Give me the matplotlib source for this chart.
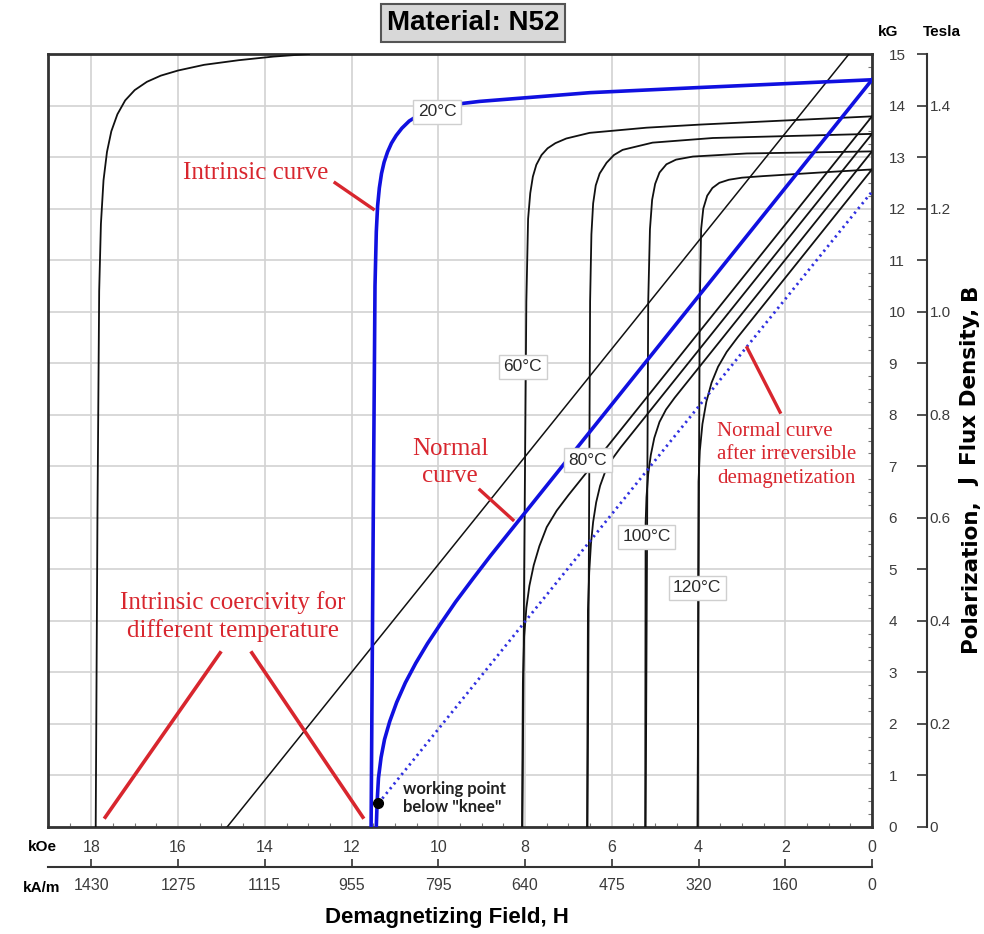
import matplotlib
matplotlib.use('Agg')
import matplotlib.pyplot as plt
from matplotlib.ticker import MultipleLocator

# H = demagnetizing field in kOe (axis runs 19 -> 0), B / J in kG
# intrinsic curves (J vs H)
h_int_a = [17.90, 17.86, 17.82, 17.78, 17.72, 17.64, 17.54, 17.40, 17.22, 17.00, 16.72, 16.40, 16.00, 15.40, 14.60, 13.80, 12.98]
b_int_a = [0.00, 6.00, 10.40, 11.70, 12.55, 13.10, 13.50, 13.83, 14.10, 14.30, 14.46, 14.58, 14.68, 14.79, 14.88, 14.95, 15.00]

h_int_20 = [11.55, 11.50, 11.46, 11.43, 11.40, 11.36, 11.31, 11.25, 11.17, 11.08, 10.97, 10.84, 10.67, 10.40, 10.05, 9.45, 9.05, 6.50, 3.97, 0.0]
b_int_20 = [0.00, 6.00, 10.50, 11.55, 12.05, 12.40, 12.68, 12.90, 13.10, 13.27, 13.42, 13.56, 13.70, 13.84, 13.95, 14.04, 14.08, 14.25, 14.35, 14.50]

h_int_60 = [8.06, 8.02, 7.97, 7.93, 7.88, 7.82, 7.74, 7.62, 7.48, 7.30, 7.05, 6.51, 5.20, 3.97, 2.00, 0.0]
b_int_60 = [0.00, 5.00, 10.20, 11.80, 12.30, 12.62, 12.85, 13.04, 13.17, 13.27, 13.36, 13.47, 13.57, 13.63, 13.71, 13.79]

h_int_80 = [6.56, 6.53, 6.50, 6.47, 6.43, 6.37, 6.28, 6.12, 5.95, 5.75, 5.06, 3.67, 0.0]
b_int_80 = [0.00, 5.00, 10.20, 11.50, 12.10, 12.45, 12.68, 12.89, 13.04, 13.14, 13.28, 13.37, 13.45]

h_int_100 = [5.22, 5.19, 5.16, 5.12, 5.07, 5.00, 4.90, 4.74, 4.52, 4.13, 2.89, 0.0]
b_int_100 = [0.00, 5.00, 10.20, 11.60, 12.17, 12.48, 12.70, 12.86, 12.95, 13.01, 13.07, 13.11]

h_int_120 = [4.02, 4.00, 3.97, 3.94, 3.89, 3.80, 3.68, 3.52, 3.30, 3.00, 2.52, 1.20, 0.0]
b_int_120 = [0.00, 5.00, 10.20, 11.60, 12.00, 12.25, 12.40, 12.50, 12.56, 12.60, 12.63, 12.70, 12.76]

# normal curves (B vs H)
h_norm_a = [14.87, 0.53]
b_norm_a = [0.0, 15.0]

h_norm_20 = [0.0, 8.80, 9.20, 9.60, 9.95, 10.25, 10.52, 10.76, 10.96, 11.12, 11.24, 11.32, 11.38, 11.41, 11.43]
b_norm_20 = [14.50, 5.26, 4.82, 4.37, 3.94, 3.56, 3.18, 2.80, 2.42, 2.05, 1.70, 1.35, 0.95, 0.50, 0.0]

h_norm_60 = [0.0, 7.00, 7.27, 7.50, 7.67, 7.80, 7.90, 7.97, 8.02, 8.05, 8.07]
b_norm_60 = [13.79, 6.44, 6.14, 5.82, 5.45, 5.08, 4.68, 4.25, 3.70, 2.80, 0.0]

h_norm_80 = [0.0, 5.80, 6.00, 6.15, 6.27, 6.36, 6.43, 6.48, 6.52, 6.55, 6.57]
b_norm_80 = [13.45, 7.36, 7.13, 6.90, 6.62, 6.30, 5.92, 5.50, 4.95, 4.20, 0.0]

h_norm_100 = [0.0, 4.55, 4.75, 4.90, 5.02, 5.10, 5.16, 5.20, 5.22, 5.23]
b_norm_100 = [13.11, 8.33, 8.10, 7.86, 7.55, 7.22, 6.85, 6.40, 5.90, 0.0]

h_norm_120 = [0.0, 3.10, 3.35, 3.55, 3.70, 3.82, 3.91, 3.97, 4.00, 4.02]
b_norm_120 = [12.76, 9.50, 9.22, 8.93, 8.62, 8.25, 7.82, 7.30, 6.70, 0.0]

# recoil line after irreversible demagnetization
h_recoil = [11.38, 0.0]
b_recoil = [0.46, 12.33]
wp_h, wp_b = 11.38, 0.46

temp_labels = ['20°C', '60°C', '80°C', '100°C', '120°C']
temp_label_h = [10.03, 8.05, 6.55, 5.19, 4.03]
temp_label_b = [13.88, 8.93, 7.12, 5.63, 4.64]

koe_ticks = [18, 16, 14, 12, 10, 8, 6, 4, 2, 0]
kam_labels = ['1430', '1275', '1115', '955', '795', '640', '475', '320', '160', '0']
kg_ticks = list(range(0, 16))
tesla_ticks = [0.0, 0.1, 0.2, 0.3, 0.4, 0.5, 0.6, 0.7, 0.8, 0.9, 1.0, 1.1, 1.2, 1.3, 1.4, 1.5]
tesla_labels = ['0', '', '0.2', '', '0.4', '', '0.6', '', '0.8', '', '1.0', '', '1.2', '', '1.4', '']

RED = '#d8262e'
BLUE = '#1010e0'
GRAY = '#3c3c3c'
SANS = 'Liberation Sans'
SERIF = 'Liberation Serif'

fig = plt.figure(figsize=(9.84, 9.34), dpi=100)
ax = fig.add_axes([48 / 984, 107 / 934, 824 / 984, 773 / 934])
ax.set_xlim(19.0, 0.0)
ax.set_ylim(0, 15)

# grid
ax.set_xticks(koe_ticks, [str(t) for t in koe_ticks])
ax.set_yticks(kg_ticks, [str(t) for t in kg_ticks])
ax.grid(True, which='major', color='#d2d2d2', lw=1.2, zorder=0)
ax.set_axisbelow(True)
ax.xaxis.set_minor_locator(MultipleLocator(0.5))
ax.yaxis.set_minor_locator(MultipleLocator(0.25))
ax.yaxis.tick_right()
ax.tick_params(axis='x', which='major', length=0, pad=9, labelsize=11.5, labelcolor=GRAY)
ax.tick_params(axis='y', which='major', length=0, pad=12, labelsize=11, labelcolor=GRAY)
ax.tick_params(which='minor', direction='in', length=3, color='#777777', width=0.8)
ax.tick_params(axis='y', which='minor', left=False, right=True)
ax.tick_params(axis='x', which='minor', top=False)
for lab in ax.get_xticklabels() + ax.get_yticklabels():
    lab.set_family(SANS)
for s in ax.spines.values():
    s.set_color('#333333')
    s.set_linewidth(2)

# curves
lw_k = 1.3
ax.plot(h_int_a, b_int_a, color='#111111', lw=lw_k, zorder=3)
ax.plot(h_norm_a, b_norm_a, color='#111111', lw=1.1, zorder=3)
for hh, bb in [(h_int_60, b_int_60), (h_int_80, b_int_80), (h_int_100, b_int_100), (h_int_120, b_int_120),
               (h_norm_60, b_norm_60), (h_norm_80, b_norm_80), (h_norm_100, b_norm_100), (h_norm_120, b_norm_120)]:
    ax.plot(hh, bb, color='#111111', lw=lw_k, zorder=3)
ax.plot(h_int_20, b_int_20, color=BLUE, lw=2.6, zorder=4)
ax.plot(h_norm_20, b_norm_20, color=BLUE, lw=2.6, zorder=4)
ax.plot(h_recoil, b_recoil, color='#3030e0', lw=2.0, ls=(0, (0.8, 1.4)), zorder=4)
ax.plot([wp_h], [wp_b], 'o', color='black', ms=7, zorder=6)

for t, hx, by in zip(temp_labels, temp_label_h, temp_label_b):
    ax.text(hx, by, t, ha='center', va='center', fontsize=12.5, family=SANS, color='#2a2a2a', zorder=7,
            bbox=dict(boxstyle='square,pad=0.25', fc='white', ec='#cfcfcf', lw=1))

ax.text(10.81, 0.57, 'working point\nbelow "knee"', ha='left', va='center', fontsize=12,
        family='Lato', weight='bold', color='#222222', linespacing=1.15, zorder=7)

# red annotations
ax.text(14.2, 12.69, 'Intrinsic curve', ha='center', va='center', fontsize=18, family=SERIF, color=RED, zorder=7)
ax.plot([12.38, 11.5], [12.5, 11.99], color=RED, lw=2.4, zorder=7)
ax.text(9.73, 7.08, 'Normal\ncurve', ha='center', va='center', fontsize=18, family=SERIF, color=RED,
        linespacing=1.3, zorder=7)
ax.plot([9.04, 8.28], [6.54, 5.96], color=RED, lw=2.4, zorder=7)
ax.text(3.57, 7.22, 'Normal curve\nafter irreversible\ndemagnetization', ha='left', va='center', fontsize=15,
        family=SERIF, color=RED, linespacing=1.3, zorder=7)
ax.plot([2.88, 2.12], [9.30, 8.05], color=RED, lw=2.4, zorder=7)
ax.text(14.73, 4.08, 'Intrinsic coercivity for\ndifferent temperature', ha='center', va='center', fontsize=18,
        family=SERIF, color=RED, linespacing=1.25, zorder=7)
ax.plot([17.68, 15.03], [0.19, 3.38], color=RED, lw=2.6, zorder=7)
ax.plot([14.30, 11.74], [3.38, 0.19], color=RED, lw=2.6, zorder=7)

# second bottom axis in kA/m
sec_x = ax.secondary_xaxis(-0.0517)
sec_x.set_xticks(koe_ticks, kam_labels)
sec_x.tick_params(direction='in', length=6, width=1.2, color='#333333', pad=8, labelsize=11.5, labelcolor=GRAY)
sec_x.spines['bottom'].set_color('#333333')
sec_x.spines['bottom'].set_linewidth(1.5)
for lab in sec_x.get_xticklabels():
    lab.set_family(SANS)

# second right axis in Tesla
sec_y = ax.secondary_yaxis(1.0667, functions=(lambda b: b / 10.0, lambda t: t * 10.0))
sec_y.set_yticks(tesla_ticks, tesla_labels)
sec_y.tick_params(direction='in', length=7, width=1.2, color='#333333', pad=2, labelsize=11, labelcolor=GRAY)
sec_y.spines['right'].set_color('#333333')
sec_y.spines['right'].set_linewidth(1.5)
for lab in sec_y.get_yticklabels():
    lab.set_family(SANS)

# unit and axis labels
fig.text(42 / 984, 1 - 847 / 934, 'kOe', ha='center', va='center', fontsize=11, weight='bold', family=SANS)
fig.text(42 / 984, 1 - 888 / 934, 'kA/m', ha='center', va='center', fontsize=11, weight='bold', family=SANS)
fig.text(888 / 984, 1 - 32 / 934, 'kG', ha='center', va='center', fontsize=11, weight='bold', family=SANS)
fig.text(942 / 984, 1 - 32 / 934, 'Tesla', ha='center', va='center', fontsize=11, weight='bold', family=SANS)
fig.text(447 / 984, 1 - 918 / 934, 'Demagnetizing Field, H', ha='center', va='center', fontsize=16,
         weight='bold', family=SANS)
for txt, yc in [('B', 292), ('Flux Density,', 386), ('J', 482), ('Polarization,', 576)]:
    fig.text(970 / 984, 1 - yc / 934, txt, ha='center', va='center', rotation=90, fontsize=15.5,
             weight='bold', family='DejaVu Sans')

fig.text(473 / 984, 1 - 23 / 934, 'Material: N52', ha='center', va='center', fontsize=20, weight='bold',
         family=SANS, bbox=dict(boxstyle='square,pad=0.2', fc='#d8d8d8', ec='#555555', lw=1.5))

fig.savefig('out.png', dpi=100)
